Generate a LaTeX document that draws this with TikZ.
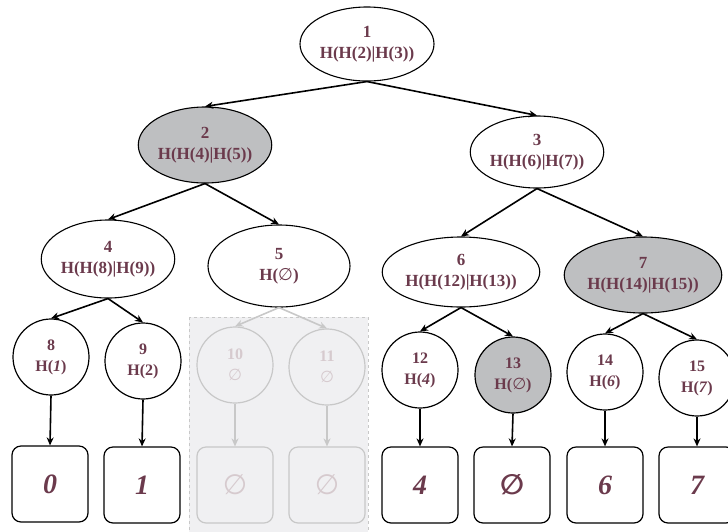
\documentclass[tikz,border=0pt]{standalone}
\usepackage{fontspec}
\setmainfont{Liberation Serif}
\newfontfamily\symfont{DejaVu Sans}
\usetikzlibrary{shapes.geometric,arrows.meta}
\definecolor{txt}{HTML}{6B3A4C}
\definecolor{grayfill}{HTML}{BEBFC1}
\definecolor{fadeline}{HTML}{C8C8C8}
\definecolor{fadetxt}{HTML}{D6CACE}
\definecolor{fadebg}{HTML}{F0F0F2}
\newcommand\es{{\symfont\mdseries\char"2205}}
\newcommand\esb{{\symfont\bfseries\char"2205}}
\tikzset{
 enode/.style={ellipse, draw=black, line width=1.1pt, text=txt, font=\fontsize{17}{21}\selectfont\bfseries, align=center, inner sep=0pt},
 cnode/.style={circle, draw=black, line width=1.2pt, minimum size=76pt, text=txt, font=\fontsize{16}{21}\selectfont\bfseries, align=center, inner sep=0pt},
 leaf/.style={rectangle, rounded corners=9pt, draw=black, line width=1.2pt, minimum width=76pt, minimum height=76pt, text=txt, font=\fontsize{28}{30}\selectfont\bfseries\itshape, inner sep=0pt},
 arr/.style={-{Stealth[length=8pt,width=7pt]}, line width=1.6pt},
 farr/.style={-{Stealth[length=8pt,width=7pt]}, line width=1.6pt, draw=fadeline},
 faded/.style={draw=fadeline, text=fadetxt},
 shaded/.style={fill=grayfill}
}
\begin{document}
\begin{tikzpicture}[x=1pt,y=-1pt]
\useasboundingbox (0,0) rectangle (728,531);
\clip (0,0) rectangle (728,531);
% faded background region
\draw[dashed, draw=fadeline, fill=fadebg, line width=1pt] (189,317) rectangle (368,535);
% level 1
\node[enode, minimum width=134pt, minimum height=74pt] (n1) at (367,44) {1\\H(H(2)|H(3))};
% level 2
\node[enode, shaded, minimum width=120pt, minimum height=76pt] (n2) at (205,145) {2\\H(H(4)|H(5))};
\node[enode, minimum width=120pt, minimum height=72pt] (n3) at (537,152) {3\\H(H(6)|H(7))};
% level 3
\node[enode, minimum width=116pt, minimum height=78pt] (n4) at (108,259) {4\\H(H(8)|H(9))};
\node[enode, minimum width=142pt, minimum height=82pt] (n5) at (279,266) {5\\H(\es)};
\node[enode, minimum width=142pt, minimum height=70pt] (n6) at (461,272) {6\\H(H(12)|H(13))};
\node[enode, shaded, minimum width=140pt, minimum height=76pt] (n7) at (643,275) {7\\H(H(14)|H(15))};
% level 4
\node[cnode] (n8) at (51,357) {8\\H(\textit{1})};
\node[cnode] (n9) at (143,361) {9\\H(2)};
\node[cnode, faded] (n10) at (235,365) {10\\\es};
\node[cnode, faded] (n11) at (327,367) {11\\\es};
\node[cnode] (n12) at (420,370) {12\\H(\textit{4})};
\node[cnode, shaded] (n13) at (513,375) {13\\H(\es)};
\node[cnode] (n14) at (605,372) {14\\H(\textit{6})};
\node[cnode] (n15) at (697,378) {15\\H(\textit{7})};
% leaves
\node[leaf] (l8) at (50,484) {0};
\node[leaf] (l9) at (142,485) {1};
\node[leaf, faded] (l10) at (235,485) {\es};
\node[leaf, faded] (l11) at (327,485) {\es};
\node[leaf] (l12) at (420,485) {4};
\node[leaf] (l13) at (512,485) {\esb};
\node[leaf] (l14) at (605,485) {6};
\node[leaf] (l15) at (697,485) {7};
% edges
\draw[arr] (n1.south) -- (n2.north);
\draw[arr] (n1.south) -- (n3.north);
\draw[arr] (n2.south) -- (n4.north);
\draw[arr] (n2.south) -- (n5.north);
\draw[arr] (n3.south) -- (n6.north);
\draw[arr] (n3.south) -- (n7.north);
\draw[arr] (n4.south) -- (n8.north);
\draw[arr] (n4.south) -- (n9.north);
\draw[farr] (n5.south) -- (n10.north);
\draw[farr] (n5.south) -- (n11.north);
\draw[arr] (n6.south) -- (n12.north);
\draw[arr] (n6.south) -- (n13.north);
\draw[arr] (n7.south) -- (n14.north);
\draw[arr] (n7.south) -- (n15.north);
\draw[arr] (n8.south) -- (l8.north);
\draw[arr] (n9.south) -- (l9.north);
\draw[farr] (n10.south) -- (l10.north);
\draw[farr] (n11.south) -- (l11.north);
\draw[arr] (n12.south) -- (l12.north);
\draw[arr] (n13.south) -- (l13.north);
\draw[arr] (n14.south) -- (l14.north);
\draw[arr] (n15.south) -- (l15.north);
\end{tikzpicture}
\end{document}
